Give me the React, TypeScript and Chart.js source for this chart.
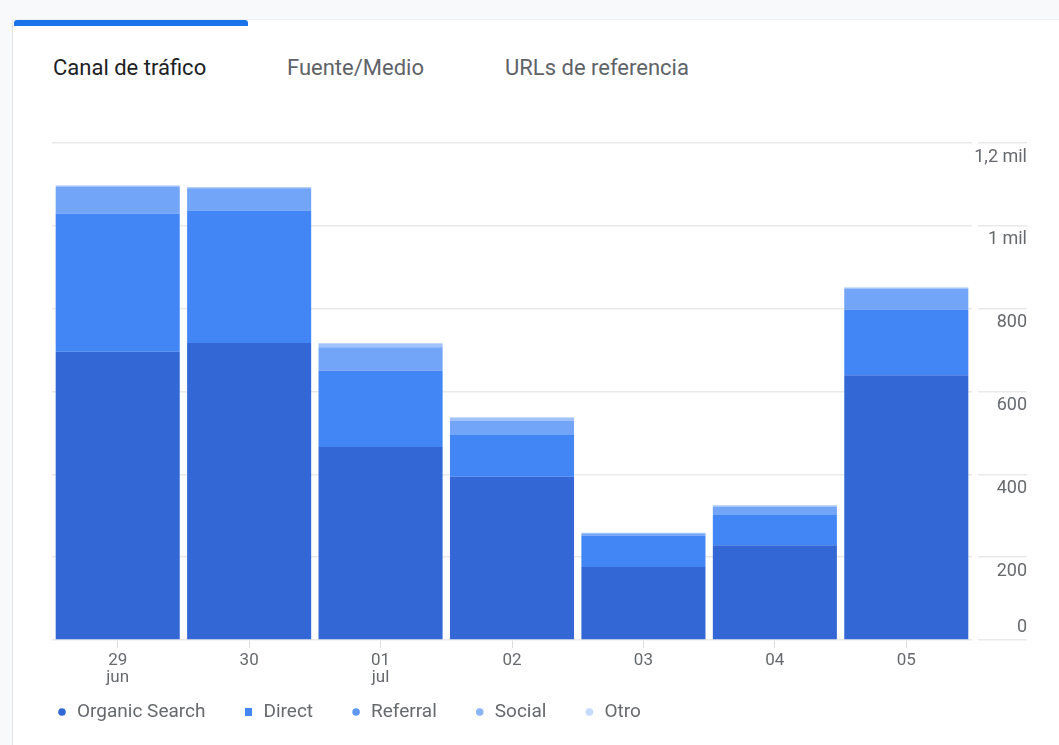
import React, { useEffect, useRef } from "react";
import { Chart, registerables } from "chart.js";

Chart.register(...registerables);

// ---- data ----
const days: string[][] = [["29", "jun"], ["30"], ["01", "jul"], ["02"], ["03"], ["04"], ["05"]];
const organicSearch = [696, 717, 466, 394, 176, 229, 639];
const direct = [334, 320, 184, 101, 76, 73, 159];
const referral = [64, 54, 57, 35, 5, 20, 50];
const social = [3, 2, 9, 7, 2, 3, 3];
const otro = [1, 1, 1, 1, 0, 1, 0];
const seriesNames = ["Organic Search", "Direct", "Referral", "Social", "Otro"];
const seriesColors = ["#3367d6", "#4285f4", "#72a4f7", "#a1c2fa", "#c6dafc"];
const legendColors = ["#3367d6", "#4285f4", "#5e97f6", "#8ab4f8", "#c6dafc"];
const legendShapes = ["circle", "rect", "circle", "circle", "circle"];
const yTicks = [0, 200, 400, 600, 800, 1000, 1200];
const yTickLabels = ["0", "200", "400", "600", "800", "1 mil", "1,2 mil"];
const tabs = ["Canal de tráfico", "Fuente/Medio", "URLs de referencia"];

const CANVAS_TOP = 110;
const FONT = "Roboto, 'Noto Sans', sans-serif";
const LABEL_COLOR = "#66696d";

const yLabelPlugin = {
  id: "yLabelPlugin",
  afterDraw(chart: any) {
    const s = chart.scales.y;
    const ctx = chart.ctx;
    ctx.save();
    ctx.font = `18px ${FONT}`;
    ctx.fillStyle = LABEL_COLOR;
    ctx.textAlign = "right";
    ctx.textBaseline = "middle";
    yTicks.forEach((v, i) => {
      const y = s.getPixelForValue(v);
      const dy = v === 0 ? -13 : 14;
      ctx.fillText(yTickLabels[i], s.left + 55, y + dy);
    });
    ctx.restore();
  },
};

const legendPlugin = {
  id: "customLegend",
  afterDraw(chart: any) {
    const ctx = chart.ctx;
    ctx.save();
    ctx.font = `19px ${FONT}`;
    ctx.textBaseline = "middle";
    ctx.textAlign = "left";
    const y = 712 - CANVAS_TOP;
    let x = 62;
    seriesNames.forEach((name, i) => {
      ctx.fillStyle = legendColors[i];
      if (legendShapes[i] === "rect") {
        ctx.fillRect(x - 3.5, y - 4, 7, 8);
      } else {
        ctx.beginPath();
        ctx.arc(x, y, 3.8, 0, Math.PI * 2);
        ctx.fill();
      }
      ctx.fillStyle = LABEL_COLOR;
      const tx = x + 15;
      ctx.fillText(name, tx, y);
      x = tx + ctx.measureText(name).width + 43;
    });
    ctx.restore();
  },
};

function TrafficChart() {
  const ref = useRef<HTMLCanvasElement | null>(null);
  useEffect(() => {
    if (!ref.current) return;
    const values = [organicSearch, direct, referral, social, otro];
    const chart = new Chart(ref.current, {
      type: "bar",
      data: {
        labels: days,
        datasets: seriesNames.map((name, i) => ({
          label: name,
          data: values[i],
          backgroundColor: seriesColors[i],
          borderWidth: 0,
          barPercentage: 0.944,
          categoryPercentage: 1,
        })),
      },
      options: {
        animation: false,
        responsive: false,
        maintainAspectRatio: false,
        layout: { padding: { top: 33, left: 52, right: 27, bottom: 35 } },
        plugins: {
          legend: { display: false },
          tooltip: { enabled: false },
        },
        scales: {
          x: {
            stacked: true,
            border: { display: false },
            grid: {
              display: true,
              drawOnChartArea: false,
              drawTicks: true,
              tickLength: 8,
              tickColor: "#dadce0",
              offset: false,
            },
            ticks: {
              color: LABEL_COLOR,
              font: { family: FONT, size: 17, lineHeight: 1.0 },
              padding: 4,
              maxRotation: 0,
              autoSkip: false,
            },
            afterFit(s: any) {
              s.height = 70;
            },
          },
          y: {
            stacked: true,
            position: "right",
            min: 0,
            max: 1200,
            border: { display: false },
            grid: {
              color: "#e9e9e9",
              lineWidth: 1.5,
              drawTicks: true,
              tickLength: 55,
              tickColor: "#e9e9e9",
              tickWidth: 1.5,
              tickBorderDash: [49, 6],
              tickBorderDashOffset: 49,
            },
            ticks: { stepSize: 200, display: false },
            afterFit(s: any) {
              s.width = 60;
            },
          },
        },
      } as any,
      plugins: [yLabelPlugin, legendPlugin],
    });
    return () => chart.destroy();
  }, []);
  return (
    <canvas
      ref={ref}
      width={1059}
      height={635}
      style={{ position: "absolute", left: 0, top: CANVAS_TOP, width: 1059, height: 635 }}
    />
  );
}

const tabLefts = [53, 287, 505];

export default function App() {
  return (
    <div
      style={{
        position: "fixed",
        inset: 0,
        background: "#f8f9fa",
        overflow: "hidden",
        fontFamily: FONT,
      }}
    >
      <div
        style={{
          position: "absolute",
          left: 12,
          top: 19,
          right: -2,
          bottom: -2,
          background: "#ffffff",
          borderLeft: "1px solid #e3e3e3",
          borderTop: "1px solid #efefef",
        }}
      />
      <div
        style={{
          position: "absolute",
          left: 14,
          top: 20,
          width: 234,
          height: 6,
          background: "#1a73e8",
          borderRadius: "3px 3px 0 0",
        }}
      />
      {tabs.map((t, i) => (
        <div
          key={t}
          style={{
            position: "absolute",
            left: tabLefts[i],
            top: 54,
            fontSize: 22,
            lineHeight: "28px",
            color: i === 0 ? "#202124" : "#5f6368",
            whiteSpace: "nowrap",
          }}
        >
          {t}
        </div>
      ))}
      <TrafficChart />
    </div>
  );
}
